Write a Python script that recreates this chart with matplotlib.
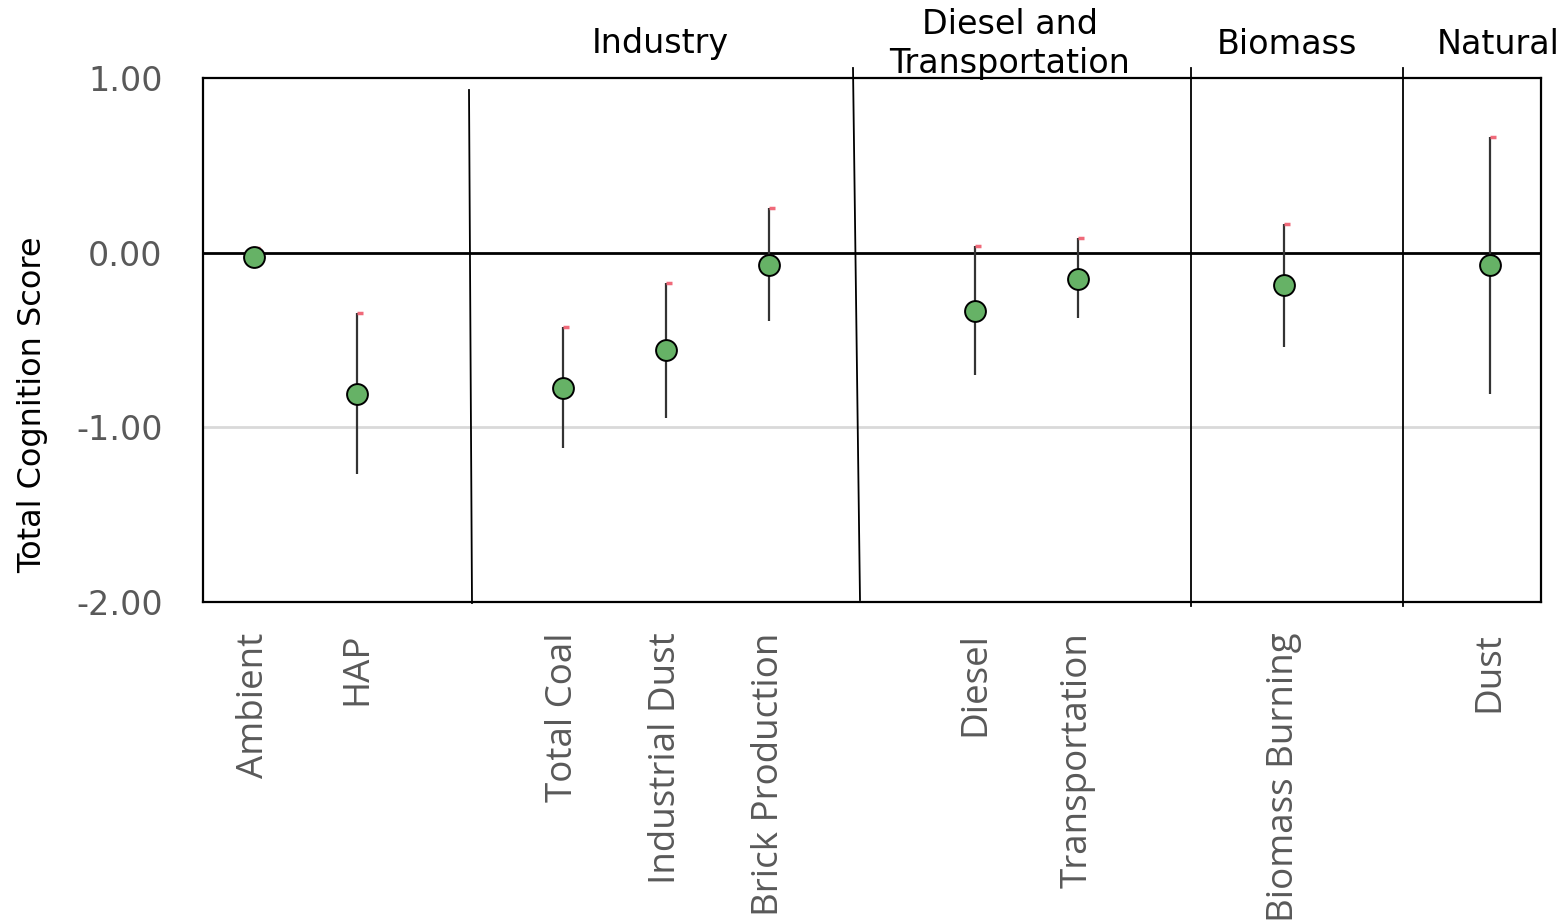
import matplotlib
matplotlib.use("Agg")
import matplotlib.pyplot as plt
from matplotlib.path import Path
import numpy as np

# ---- data ----
categories = ["Ambient", "HAP", "", "Total Coal", "Industrial Dust", "Brick Production", "",
              "Diesel", "Transportation", "", "Biomass Burning", "", "Dust"]
estimate = [-0.025, -0.809, np.nan, -0.777, -0.560, -0.070, np.nan,
            -0.332, -0.149, np.nan, -0.187, np.nan, -0.073]
lower = [-0.07, -1.268, np.nan, -1.119, -0.944, -0.393, np.nan,
         -0.703, -0.376, np.nan, -0.542, np.nan, -0.812]
upper = [0.027, -0.346, np.nan, -0.427, -0.173, 0.256, np.nan,
         0.040, 0.084, np.nan, 0.164, np.nan, 0.663]
group_labels = ["Industry", "Diesel and\nTransportation", "Biomass", "Natural"]
yticks = [1.0, 0.0, -1.0, -2.0]
ytick_labels = ["1.00", "0.00", "-1.00", "-2.00"]

fig = plt.figure(figsize=(15.65, 9.22), dpi=100)
ax = fig.add_axes([203/1565, 1-602/922, (1541-203)/1565, (602-78)/922])

x = np.arange(len(categories))
est = np.array(estimate, float)
lo = np.array(lower, float)
up = np.array(upper, float)
mask = ~np.isnan(est)

ax.axhline(-1, color="#d9d9d9", lw=2, zorder=1)
ax.axhline(0, color="black", lw=2, zorder=2)

ax.vlines(x[mask], lo[mask], up[mask], color="#333333", lw=1.6, zorder=3)
cap_marker = Path([(0, 0), (1, 0)], [Path.MOVETO, Path.LINETO])
ax.plot(x[mask], up[mask], ls="none", marker=cap_marker, markersize=8,
        markeredgecolor="#f06a7a", markeredgewidth=2.5, zorder=4)
ax.plot(x[mask], est[mask], ls="none", marker="o", markersize=15,
        markerfacecolor="#66b266", markeredgecolor="black", markeredgewidth=1.4, zorder=5)

ax.set_xlim(-0.5, len(categories) - 0.5)
ax.set_ylim(-2, 1)
ax.set_yticks(yticks)
ax.set_yticklabels(ytick_labels)
ax.set_xticks(x)
ax.set_xticklabels(categories, rotation=90, family="Open Sans")
ax.tick_params(axis="both", length=0, labelcolor="#595959")
ax.tick_params(axis="x", pad=22, labelsize=26.5)
ax.tick_params(axis="y", pad=29, labelsize=24)
for s in ax.spines.values():
    s.set_color("black")
    s.set_linewidth(1.6)

def fx(px):
    return px / 1565
def fy(py):
    return 1 - py / 922

fig.text(fx(33), fy(405), "Total Cognition Score", rotation=90, ha="center", va="center",
         fontsize=23, color="black")

# group separators (extend beyond the plot area)
sep_lines = [((469, 90), (472, 603)), ((853, 68), (860, 600)),
             ((1191, 68), (1191, 606)), ((1403, 68), (1403, 606))]
for (x0, y0), (x1, y1) in sep_lines:
    fig.add_artist(plt.Line2D([fx(x0), fx(x1)], [fy(y0), fy(y1)],
                              color="black", lw=1.3, zorder=10))

group_pos = [(660, 44), (1010, 44), (1287, 44), (1498, 44)]
for lab, (gx, gy) in zip(group_labels, group_pos):
    fig.text(fx(gx), fy(gy), lab, ha="center", va="center", fontsize=24,
             color="black", linespacing=1.2)

fig.savefig("out.png", dpi=100)
